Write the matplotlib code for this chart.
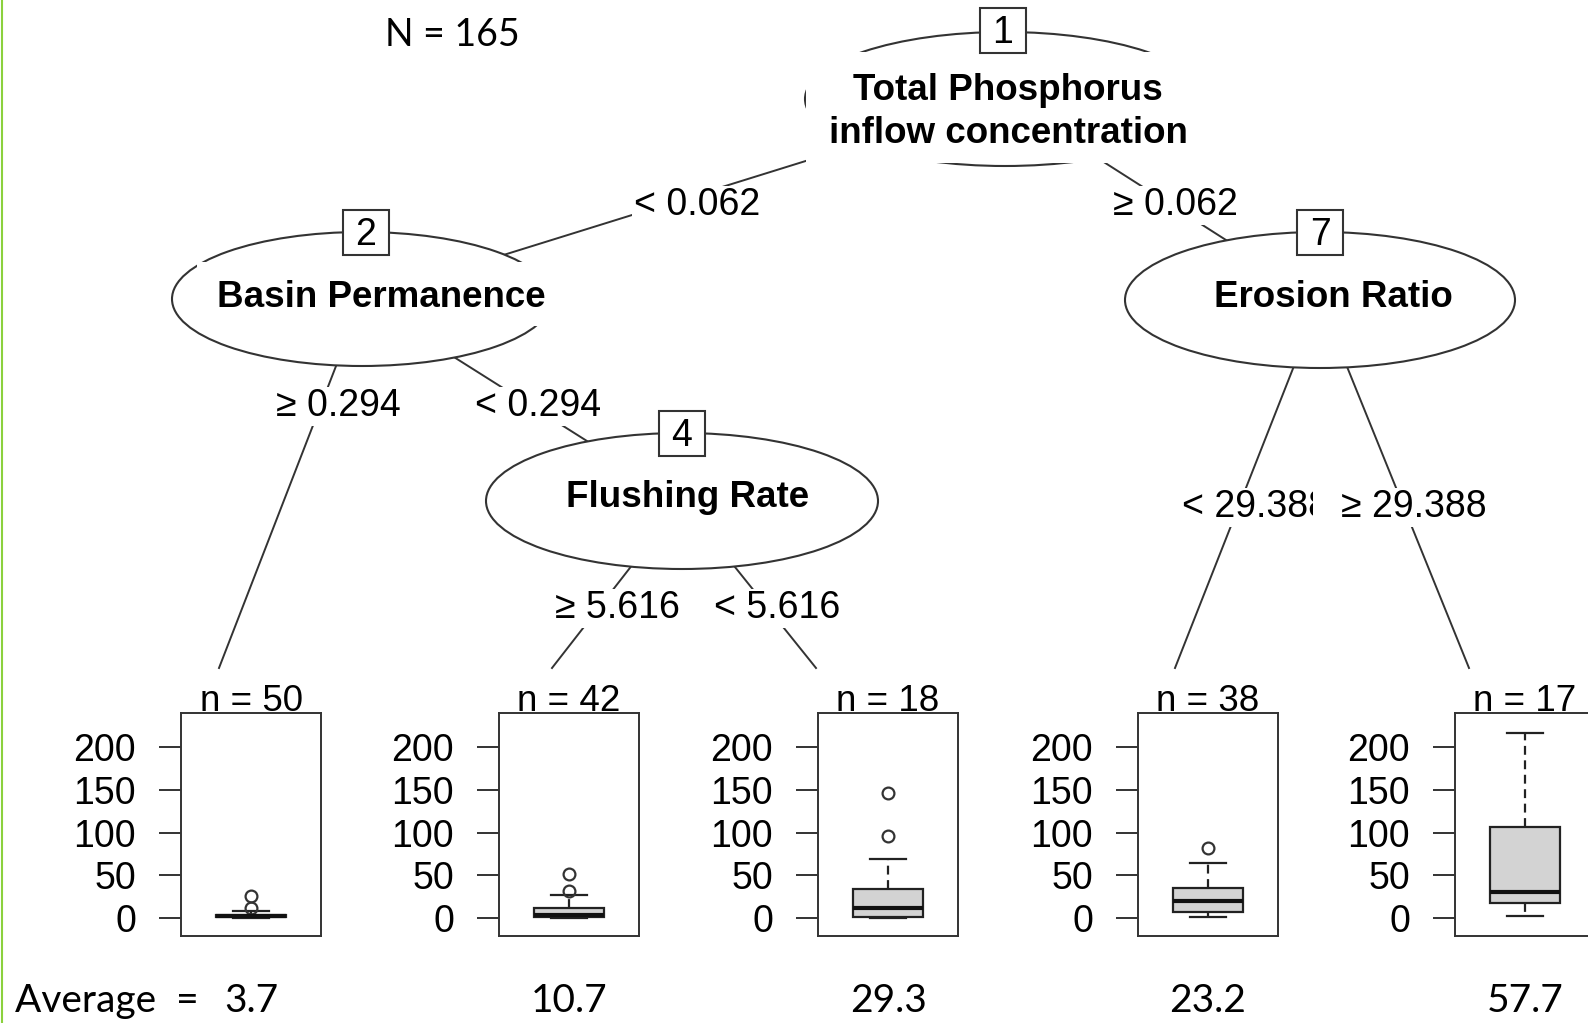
import matplotlib.pyplot as plt
from matplotlib.patches import Ellipse, Rectangle

plt.rcParams['font.family'] = ['Liberation Sans', 'DejaVu Sans']

W, H = 1588, 1023

# tree content
total_n = 165
node_ids = [1, 2, 4, 7]
node_names = ['Total Phosphorus\ninflow concentration', 'Basin Permanence', 'Flushing Rate', 'Erosion Ratio']
split_labels = ['< 0.062', '≥ 0.062', '≥ 0.294', '< 0.294', '≥ 5.616', '< 5.616', '< 29.388', '≥ 29.388']
leaf_n = [50, 42, 18, 38, 17]
leaf_avg = [3.7, 10.7, 29.3, 23.2, 57.7]

# box statistics of the five terminal nodes
whislo = [0, 0, 0, 1, 2.5]
q1 = [1, 1, 1, 7, 17.5]
med = [2, 4, 12, 20, 30]
q3 = [4, 12, 34, 35, 106]
whishi = [8, 27, 69, 65, 217]
fliers = [[12, 26], [32, 52], [96, 146], [82], []]
y_ticks = [0, 50, 100, 150, 200]

# layout in pixels (y downwards)
node_xy = [(1005, 99), (362, 299), (682, 501), (1320, 300)]
node_ab = [(200, 67), (190, 67), (196, 68), (195, 68)]
numbox_xy = [(1003, 30), (366, 232), (682, 433), (1320, 232)]
name_xy = [(1008, 100), (381, 307), (688, 507), (1333, 307)]
leaf_top = [(219, 668), (552, 668), (816, 668), (1175, 668), (1469, 668)]
edges = [(node_xy[0], node_xy[1]), (node_xy[0], node_xy[3]),
         (node_xy[1], leaf_top[0]), (node_xy[1], node_xy[2]),
         (node_xy[2], leaf_top[1]), (node_xy[2], leaf_top[2]),
         (node_xy[3], leaf_top[3]), (node_xy[3], leaf_top[4])]
split_xy = [(697, 215), (1175, 215), (338, 416), (538, 416), (617, 618), (777, 618), (1255, 517), (1414, 517)]
panel_x = [181, 499, 818, 1138, 1455]
panel_top, panel_bot, panel_w = 713, 936, 140

fig = plt.figure(figsize=(W / 100, H / 100), dpi=100)
ax = fig.add_axes([0, 0, 1, 1])
ax.set_xlim(0, W)
ax.set_ylim(H, 0)
ax.axis('off')

lc = '#333333'
fs = 27

# edges
for (x0, y0), (x1, y1) in edges:
    ax.plot([x0, x1], [y0, y1], color=lc, lw=1.4, zorder=1)

# inner nodes
for (x, y), (a, b) in zip(node_xy, node_ab):
    ax.add_patch(Ellipse((x, y), 2 * a, 2 * b, facecolor='white', edgecolor=lc, lw=1.5, zorder=2))

# white label boxes pasted over nodes 1 and 2
ax.add_patch(Rectangle((806, 52), 414, 111, facecolor='white', edgecolor='none', zorder=3))
ax.add_patch(Rectangle((197, 262), 359, 64, facecolor='white', edgecolor='none', zorder=3))

ax.text(name_xy[0][0], name_xy[0][1], 'Total Phosphorus', ha='center', va='baseline',
        fontsize=26.5, fontweight='bold', zorder=4)
ax.text(name_xy[0][0], 143, 'inflow concentration', ha='center', va='baseline',
        fontsize=26.5, fontweight='bold', zorder=4)
for i in range(1, 4):
    ax.text(name_xy[i][0], name_xy[i][1], node_names[i], ha='center', va='baseline',
            fontsize=26.5, fontweight='bold', zorder=4)

# node number boxes
for (x, y), k in zip(numbox_xy, node_ids):
    ax.add_patch(Rectangle((x - 23, y - 22), 46, 45, facecolor='white', edgecolor=lc, lw=1.5, zorder=5))
    ax.text(x, y + 13, str(k), ha='center', va='baseline', fontsize=fs, zorder=6)

# split labels
for (x, y), s in zip(split_xy, split_labels):
    t = ax.text(x, y, s, ha='center', va='baseline', fontsize=fs, zorder=4,
                bbox=dict(facecolor='white', edgecolor='none', pad=1))
    if s == '< 29.388':
        # the reference cuts the last digit of this label
        t.set_clip_on(True)
        t.set_clip_path(Rectangle((1100, 450), 213, 120, transform=ax.transData))

ax.text(385, 46, 'N = ' + str(total_n), ha='left', va='baseline', fontsize=27, family='Lato')

# terminal nodes
for i in range(5):
    pax = fig.add_axes([panel_x[i] / W, 1 - panel_bot / H, panel_w / W, (panel_bot - panel_top) / H])
    stats = [dict(whislo=whislo[i], q1=q1[i], med=med[i], q3=q3[i], whishi=whishi[i], fliers=fliers[i])]
    pax.bxp(stats, positions=[0.5], widths=0.5, capwidths=0.26, patch_artist=True,
            boxprops=dict(facecolor='#D3D3D3', edgecolor='#222222', linewidth=1.6),
            medianprops=dict(color='#111111', linewidth=3),
            whiskerprops=dict(color='#222222', linewidth=1.6, linestyle=(0, (4, 2.5))),
            capprops=dict(color='#222222', linewidth=1.6),
            flierprops=dict(marker='o', markerfacecolor='none', markeredgecolor='#333333',
                            markersize=8.5, markeredgewidth=1.6))
    pax.set_xlim(0, 1)
    pax.set_ylim(-21, 240)
    pax.set_xticks([])
    pax.set_yticks(y_ticks)
    pax.tick_params(axis='y', length=15.8, width=1.4, pad=16.5, labelsize=fs, color=lc)
    for sp in pax.spines.values():
        sp.set_linewidth(1.4)
        sp.set_color(lc)
    cx = panel_x[i] + panel_w / 2
    ax.text(cx, 711, 'n = ' + str(leaf_n[i]), ha='center', va='baseline', fontsize=26.5)
    ax.text(cx, 1012, str(leaf_avg[i]), ha='center', va='baseline', fontsize=28, family='Lato')

ax.text(15, 1012, 'Average  =', ha='left', va='baseline', fontsize=28, family='Lato')

# green frame edge on the left
ax.plot([1.5, 1.5], [0, H], color='#8BD13D', lw=1.5)

fig.savefig('out.png', dpi=100)
